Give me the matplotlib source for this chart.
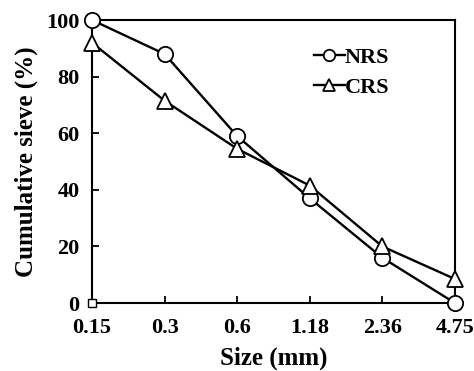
import matplotlib
matplotlib.use("Agg")
import matplotlib.pyplot as plt

sizes = ["0.15", "0.3", "0.6", "1.18", "2.36", "4.75"]
nrs = [100, 88, 59, 37, 16, 0]
crs = [92, 71.5, 54.5, 41.5, 20, 8.5]
origin_marker = [0]

plt.rcParams["font.family"] = "Liberation Serif"
plt.rcParams["font.weight"] = "bold"

fig = plt.figure(figsize=(4.74, 3.71), dpi=100)
ax = fig.add_axes([0.194, 0.183, 0.766, 0.763])

x = list(range(len(sizes)))
ax.plot(x, nrs, color="black", lw=1.7, marker="o", ms=11, mfc="white",
        mec="black", mew=1.3, label="NRS", clip_on=False, zorder=3)
ax.plot(x, crs, color="black", lw=1.7, marker="^", ms=11, mfc="white",
        mec="black", mew=1.3, label="CRS", clip_on=False, zorder=3)
ax.plot([0], origin_marker, ls="none", marker="s", ms=6, mfc="white",
        mec="black", mew=1.0, clip_on=False, zorder=4)

ax.set_xlim(0, len(sizes) - 1)
ax.set_ylim(0, 100)
ax.set_xticks(x)
ax.set_xticklabels(sizes)
ax.set_yticks(range(0, 101, 20))
ax.tick_params(direction="in", length=5, width=1.3, labelsize=16)
ax.tick_params(axis="x", pad=11)
ax.tick_params(axis="y", pad=9)
for s in ax.spines.values():
    s.set_linewidth(1.5)

ax.set_xlabel("Size (mm)", fontsize=18, fontweight="bold", labelpad=6)
ax.set_ylabel("Cumulative sieve (%)", fontsize=18, fontweight="bold", labelpad=6)

leg = ax.legend(loc="upper right", bbox_to_anchor=(0.875, 0.975), frameon=False,
                fontsize=16, handlelength=1.4, handletextpad=0.0,
                markerscale=0.75, labelspacing=0.45)

fig.savefig("out.png", dpi=100)
